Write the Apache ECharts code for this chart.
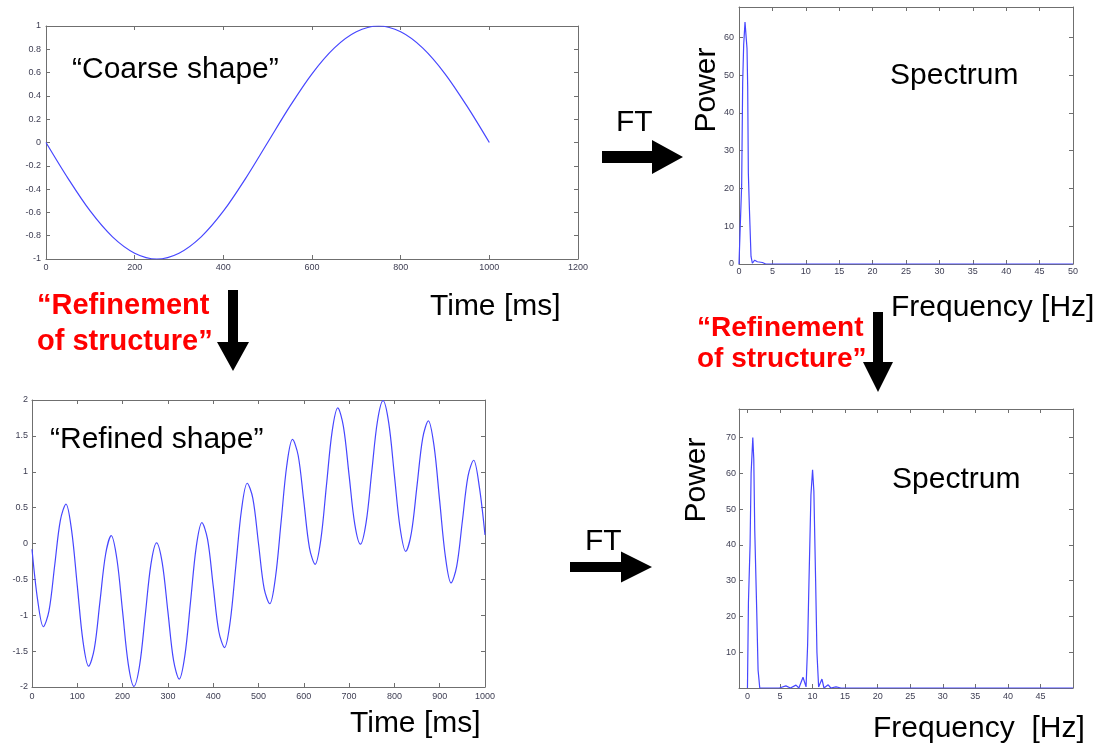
<!DOCTYPE html>
<html>
<head>
<meta charset="utf-8">
<title>Coarse and refined shape with spectra</title>
<script src="https://cdn.jsdelivr.net/npm/echarts@6/dist/echarts.min.js"></script>
<style>
  html, body { margin: 0; padding: 0; background: #ffffff; }
  #chart { width: 1104px; height: 755px; }
</style>
</head>
<body>
<div id="chart"></div>
<script>
// ---- Coarse shape (time domain), one slow period over 1 s ----
const coarseTime  = [0, 50, 100, 150, 200, 250, 300, 350, 400, 450, 500,
                     550, 600, 650, 700, 750, 800, 850, 900, 950, 1000];
const coarseValue = [0, -0.31, -0.59, -0.81, -0.95, -1, -0.95, -0.81, -0.59, -0.31, 0,
                     0.31, 0.59, 0.81, 0.95, 1, 0.95, 0.81, 0.59, 0.31, 0];

// ---- Refined shape (time domain) ----
const refinedTime = [0, 12.5, 25, 37.5, 50, 62.5, 75, 87.5, 100, 112.5, 125, 137.5, 150, 162.5, 175, 187.5,
                     200, 212.5, 225, 237.5, 250, 262.5, 275, 287.5, 300, 312.5, 325, 337.5, 350, 362.5, 375, 387.5,
                     400, 412.5, 425, 437.5, 450, 462.5, 475, 487.5, 500, 512.5, 525, 537.5, 550, 562.5, 575, 587.5,
                     600, 612.5, 625, 637.5, 650, 662.5, 675, 687.5, 700, 712.5, 725, 737.5, 750, 762.5, 775, 787.5,
                     800, 812.5, 825, 837.5, 850, 862.5, 875, 887.5, 900, 912.5, 925, 937.5, 950, 962.5, 975, 987.5,
                     1000];
const refinedValue = [-0.08, -0.79, -1.16, -0.94, -0.31, 0.32, 0.55, 0.18, -0.59, -1.36, -1.71, -1.47, -0.81, -0.15, 0.11, -0.22,
                      -0.95, -1.68, -1.99, -1.70, -1.00, -0.29, 0.01, -0.27, -0.95, -1.63, -1.89, -1.56, -0.81, -0.05, 0.29, 0.06,
                      -0.59, -1.23, -1.45, -1.09, -0.31, 0.47, 0.84, 0.63, 0, -0.63, -0.84, -0.47, 0.31, 1.09, 1.45, 1.23,
                      0.59, -0.06, -0.29, 0.05, 0.81, 1.56, 1.89, 1.63, 0.95, 0.27, -0.01, 0.29, 1.00, 1.70, 1.99, 1.68,
                      0.95, 0.22, -0.11, 0.15, 0.81, 1.47, 1.71, 1.36, 0.59, -0.18, -0.55, -0.32, 0.31, 0.94, 1.16, 0.79,
                      0.12];

// ---- Spectrum of the coarse shape ----
const coarseFreq  = [0, 0.15, 0.4, 0.55, 0.7, 0.9, 1.2, 1.3, 1.4, 1.55, 1.8, 2.0, 2.35, 2.75, 3.0, 3.5, 4.0, 50];
const coarsePower = [0, 8, 21, 48, 58, 64, 57, 47, 24, 15, 2, 0.2, 1, 0.6, 0.2, 0.4, 0, 0];

// ---- Spectrum of the refined shape ----
const refinedFreq  = [0, 0.15, 0.4, 0.56, 0.82, 0.97, 1.12, 1.43, 1.63, 1.89, 4.9, 5.9, 6.6, 7.45, 7.9, 8.53,
                      9.0, 9.24, 9.45, 9.75, 10.0, 10.2, 10.47, 10.67, 10.93, 11.44, 11.75, 12.4, 12.8, 13.6, 14.35, 50];
const refinedPower = [0, 24, 40, 60, 70, 64, 44, 21, 5, 0, 0, 0.6, 0, 0.8, 0, 3,
                      0.3, 12, 30, 54, 61, 55, 30, 10, 0.3, 2.5, 0, 0.9, 0, 0.3, 0, 0];

// ---- Tick labels ----
const coarseTimeTicks   = [0, 200, 400, 600, 800, 1000, 1200];
const coarseValueTicks  = [-1, -0.8, -0.6, -0.4, -0.2, 0, 0.2, 0.4, 0.6, 0.8, 1];
const refinedTimeTicks  = [0, 100, 200, 300, 400, 500, 600, 700, 800, 900, 1000];
const refinedValueTicks = [-2, -1.5, -1, -0.5, 0, 0.5, 1, 1.5, 2];
const coarseFreqTicks   = [0, 5, 10, 15, 20, 25, 30, 35, 40, 45, 50];
const coarsePowerTicks  = [0, 10, 20, 30, 40, 50, 60];
const refinedFreqTicks  = [0, 5, 10, 15, 20, 25, 30, 35, 40, 45];
const refinedPowerTicks = [10, 20, 30, 40, 50, 60, 70];

// ---- Styles ----
const AXIS_COLOR = '#6f6f6f';
const LINE_COLOR = '#4646ff';
const TICK_FONT = { fontSize: 9, color: '#3d3d52', fontFamily: '"Liberation Sans", Arial, sans-serif' };
const FONT = '"Liberation Sans", Arial, sans-serif';

const pairs = (xs, ys) => xs.map((x, i) => [x, ys[i]]);
const plain = (v) => String(v);   // no thousands separator

// Each panel gets a boxed frame: labelled bottom/left axes plus bare top/right axes with inner ticks.
function xAxes(grid, min, max, ticks, margin) {
  const base = {
    type: 'value', gridIndex: grid, min: min, max: max,
    axisLine: { show: true, onZero: false, lineStyle: { color: AXIS_COLOR, width: 1 } },
    axisTick: { show: true, inside: true, length: 4, customValues: ticks, lineStyle: { color: AXIS_COLOR } },
    splitLine: { show: false }
  };
  return [
    Object.assign({}, base, { position: 'bottom',
      axisLabel: Object.assign({ show: true, margin: margin, customValues: ticks, formatter: plain }, TICK_FONT) }),
    Object.assign({}, base, { position: 'top', axisLabel: { show: false } })
  ];
}
function yAxes(grid, min, max, ticks, margin) {
  const base = {
    type: 'value', gridIndex: grid, min: min, max: max,
    axisLine: { show: true, onZero: false, lineStyle: { color: AXIS_COLOR, width: 1 } },
    axisTick: { show: true, inside: true, length: 4, customValues: ticks, lineStyle: { color: AXIS_COLOR } },
    splitLine: { show: false }
  };
  return [
    Object.assign({}, base, { position: 'left',
      axisLabel: Object.assign({ show: true, margin: margin, customValues: ticks, formatter: plain }, TICK_FONT) }),
    Object.assign({}, base, { position: 'right', axisLabel: { show: false } })
  ];
}

function lineSeries(grid, data, smooth) {
  return {
    type: 'line', xAxisIndex: grid * 2, yAxisIndex: grid * 2, data: data,
    smooth: smooth, symbol: 'none', silent: true,
    lineStyle: { color: LINE_COLOR, width: 1.2 }
  };
}

function text(str, x, y, opts) {
  opts = opts || {};
  const size = opts.size || 30;
  const weight = opts.weight || 'normal';
  const align = opts.align || 'left';
  return {
    type: 'text', x: x, y: y, rotation: opts.rotation || 0, z: 100,
    style: {
      text: str, fill: opts.color || '#000000',
      font: weight + ' ' + size + 'px ' + FONT,
      textAlign: align, textVerticalAlign: 'middle',
      align: align, verticalAlign: 'middle'
    }
  };
}

// Solid block arrows
function arrowRight(x0, xb, tip, cy, shaft, head) {
  return { type: 'polygon', z: 100, style: { fill: '#000000' }, shape: { points: [
    [x0, cy - shaft / 2], [xb, cy - shaft / 2], [xb, cy - head / 2], [tip, cy],
    [xb, cy + head / 2], [xb, cy + shaft / 2], [x0, cy + shaft / 2]
  ] } };
}
function arrowDown(cx, y0, yb, tip, shaft, head) {
  return { type: 'polygon', z: 100, style: { fill: '#000000' }, shape: { points: [
    [cx - shaft / 2, y0], [cx + shaft / 2, y0], [cx + shaft / 2, yb], [cx + head / 2, yb],
    [cx, tip], [cx - head / 2, yb], [cx - shaft / 2, yb]
  ] } };
}

const chart = echarts.init(document.getElementById('chart'), null, { renderer: 'canvas' });

chart.setOption({
  animation: false,
  backgroundColor: '#ffffff',
  grid: [
    { left: 46,  top: 26,  width: 532, height: 233 },  // coarse shape
    { left: 739, top: 7,   width: 334, height: 257 },  // coarse spectrum
    { left: 32,  top: 400, width: 453, height: 287 },  // refined shape
    { left: 739, top: 409, width: 334, height: 279 }   // refined spectrum
  ],
  xAxis: [].concat(
    xAxes(0, 0, 1200, coarseTimeTicks, 4),
    xAxes(1, 0, 50, coarseFreqTicks, 3),
    xAxes(2, 0, 1000, refinedTimeTicks, 5),
    xAxes(3, -1.3, 50, refinedFreqTicks, 4)
  ),
  yAxis: [].concat(
    yAxes(0, -1, 1, coarseValueTicks, 5),
    yAxes(1, 0, 68, coarsePowerTicks, 5),
    yAxes(2, -2, 2, refinedValueTicks, 4),
    yAxes(3, 0, 78, refinedPowerTicks, 3)
  ),
  series: [
    lineSeries(0, pairs(coarseTime, coarseValue), 0.33),
    lineSeries(1, pairs(coarseFreq, coarsePower), false),
    lineSeries(2, pairs(refinedTime, refinedValue), 0.33),
    lineSeries(3, pairs(refinedFreq, refinedPower), false)
  ],
  graphic: [
    text('“Coarse shape”', 72, 70),
    text('Time [ms]', 430, 307),
    text('FT', 616, 123),
    arrowRight(602, 652, 683, 157, 12, 34),
    text('Power', 707, 90, { rotation: Math.PI / 2, align: 'center' }),
    text('Spectrum', 890, 76),
    text('Frequency [Hz]', 891, 308),

    text('“Refinement', 37, 306, { color: '#ff0000', weight: 'bold', size: 29 }),
    text('of structure”', 37, 342, { color: '#ff0000', weight: 'bold', size: 29 }),
    arrowDown(233, 290, 342, 371, 10, 32),
    text('“Refinement', 697, 328, { color: '#ff0000', weight: 'bold', size: 28 }),
    text('of structure”', 697, 359, { color: '#ff0000', weight: 'bold', size: 28 }),
    arrowDown(878, 312, 362, 392, 10, 30),

    text('“Refined shape”', 50, 440),
    text('Time [ms]', 350, 724),
    text('FT', 585, 542),
    arrowRight(570, 621, 652, 567, 10, 31),
    text('Power', 697, 480, { rotation: Math.PI / 2, align: 'center' }),
    text('Spectrum', 892, 480),
    text('Frequency  [Hz]', 873, 729)
  ]
});
</script>
</body>
</html>
